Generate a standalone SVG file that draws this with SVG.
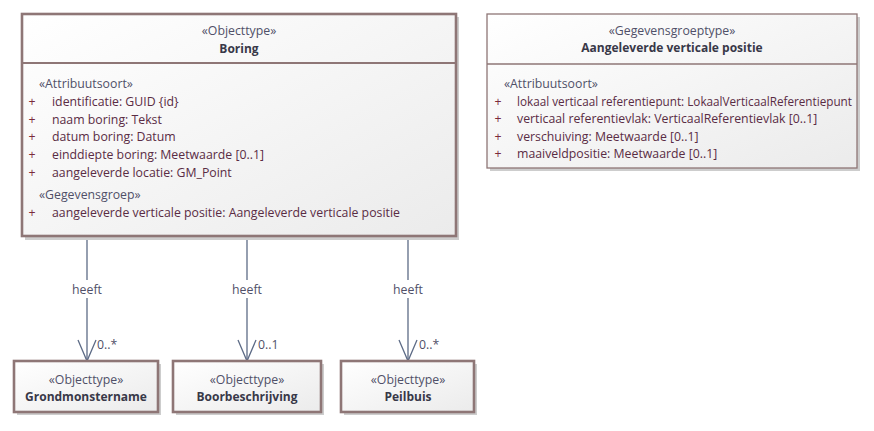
<svg xmlns="http://www.w3.org/2000/svg" width="874" height="431" viewBox="0 0 874 431">
<style>
text{font-family:"Open Sans","Noto Sans","Liberation Sans",sans-serif;font-size:12.3px;}
.st{fill:#505068;text-anchor:middle;}
.nm{fill:#383848;font-weight:bold;font-size:12px;text-anchor:middle;}
.sec{fill:#505068;}
.pl{fill:#7a2a3c;text-anchor:middle;}
.at{fill:#5a2c44;}
.box{fill:url(#g);stroke:#8e7676;stroke-width:2.6;}
.box2{fill:url(#g);stroke:#8e7676;stroke-width:1.3;}
.sh{fill:#cdcdcd;}
.div{stroke:#8e7676;stroke-width:2;}
.div2{stroke:#8e7676;stroke-width:1.3;}
.con{stroke:#5d6b86;stroke-width:1.3;fill:none;}
.lbl{fill:#505068;text-anchor:middle;}
.mul{fill:#505068;}
</style>
<defs>
<linearGradient id="g" x1="0" y1="0" x2="1" y2="1">
<stop offset="0" stop-color="#ffffff"/>
<stop offset="1" stop-color="#ebebeb"/>
</linearGradient>
</defs>
<rect width="874" height="431" fill="#ffffff"/>
<g id="connectors">
<line class="con" x1="87" y1="237" x2="87" y2="280"/>
<line class="con" x1="87" y1="298" x2="87" y2="361"/>
<polyline class="con" points="78,340 87,361 96,340"/>
<text class="lbl" x="87" y="294">heeft</text>
<text class="mul" x="97" y="349">0..*</text>
<line class="con" x1="247" y1="237" x2="247" y2="280"/>
<line class="con" x1="247" y1="298" x2="247" y2="361"/>
<polyline class="con" points="238,340 247,361 256,340"/>
<text class="lbl" x="247" y="294">heeft</text>
<text class="mul" x="258" y="349">0..1</text>
<line class="con" x1="408" y1="237" x2="408" y2="280"/>
<line class="con" x1="408" y1="298" x2="408" y2="361"/>
<polyline class="con" points="399,340 408,361 417,340"/>
<text class="lbl" x="408" y="294">heeft</text>
<text class="mul" x="419" y="349">0..*</text>
</g>
<g id="boring">
<rect class="sh" x="25" y="17" width="434" height="223"/>
<rect class="box" x="22" y="14" width="434" height="222"/>
<line class="div" x1="22" y1="63" x2="456" y2="63"/>
<text class="st" x="239" y="35">«Objecttype»</text>
<text class="nm" x="239" y="52.5">Boring</text>
<text class="sec" x="39" y="88">«Attribuutsoort»</text>
<text class="pl" x="32" y="106">+</text><text class="at" x="52" y="106">identificatie: GUID {id}</text>
<text class="pl" x="32" y="123.5">+</text><text class="at" x="52" y="123.5">naam boring: Tekst</text>
<text class="pl" x="32" y="141">+</text><text class="at" x="52" y="141">datum boring: Datum</text>
<text class="pl" x="32" y="159">+</text><text class="at" x="52" y="159">einddiepte boring: Meetwaarde [0..1]</text>
<text class="pl" x="32" y="177">+</text><text class="at" x="52" y="177">aangeleverde locatie: GM_Point</text>
<text class="sec" x="39" y="199">«Gegevensgroep»</text>
<text class="pl" x="32" y="216.5">+</text><text class="at" x="52" y="216.5">aangeleverde verticale positie: Aangeleverde verticale positie</text>
</g>
<g id="aangeleverde-verticale-positie">
<rect class="sh" x="490" y="17" width="370" height="154"/>
<rect class="box2" x="487" y="14" width="370" height="154"/>
<line class="div2" x1="487" y1="64" x2="857" y2="64"/>
<text class="st" x="672" y="35">«Gegevensgroeptype»</text>
<text class="nm" x="672" y="52">Aangeleverde verticale positie</text>
<text class="sec" x="504" y="88">«Attribuutsoort»</text>
<text class="pl" x="498" y="105.5">+</text><text class="at" x="517" y="105.5" textLength="335" lengthAdjust="spacingAndGlyphs">lokaal verticaal referentiepunt: LokaalVerticaalReferentiepunt</text>
<text class="pl" x="498" y="123">+</text><text class="at" x="517" y="123">verticaal referentievlak: VerticaalReferentievlak [0..1]</text>
<text class="pl" x="498" y="140.5">+</text><text class="at" x="517" y="140.5">verschuiving: Meetwaarde [0..1]</text>
<text class="pl" x="498" y="158">+</text><text class="at" x="517" y="158">maaiveldpositie: Meetwaarde [0..1]</text>
</g>
<g id="grondmonstername">
<rect class="sh" x="17" y="364" width="144" height="51"/>
<rect class="box" x="14" y="361" width="144" height="51"/>
<text class="st" x="86" y="384">«Objecttype»</text>
<text class="nm" x="86" y="400.5">Grondmonstername</text>
</g>
<g id="boorbeschrijving">
<rect class="sh" x="176" y="364" width="148" height="51"/>
<rect class="box" x="173" y="361" width="148" height="51"/>
<text class="st" x="247" y="384">«Objecttype»</text>
<text class="nm" x="247" y="400.5">Boorbeschrijving</text>
</g>
<g id="peilbuis">
<rect class="sh" x="344" y="364" width="133" height="51"/>
<rect class="box" x="341" y="361" width="133" height="51"/>
<text class="st" x="408" y="384">«Objecttype»</text>
<text class="nm" x="408" y="400.5">Peilbuis</text>
</g>
</svg>
